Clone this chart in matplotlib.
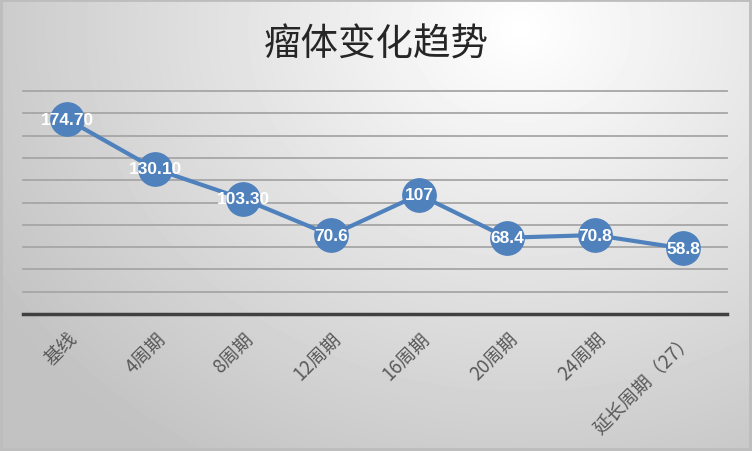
import matplotlib
matplotlib.use('Agg')
import matplotlib.pyplot as plt
import numpy as np

categories = ['基线', '4周期', '8周期', '12周期', '16周期', '20周期', '24周期', '延长周期（27）']
values = [174.70, 130.10, 103.30, 70.6, 107, 68.4, 70.8, 58.8]
labels = ['174.70', '130.10', '103.30', '70.6', '107', '68.4', '70.8', '58.8']

plt.rcParams['font.family'] = ['Noto Sans CJK SC', 'DejaVu Sans']

W, H = 752, 452
fig = plt.figure(figsize=(W / 100, H / 100), dpi=100)

# radial grey gradient background like the office chart style
bg = fig.add_axes([0, 0, 1, 1])
yy, xx = np.mgrid[0:H, 0:W]
d = np.sqrt((xx - 520) ** 2 + ((yy - 30) * 1.2) ** 2) / 620
d = np.clip(d, 0, 1)
shade = 1.0 - 0.24 * d
bg.imshow(shade, cmap='gray', vmin=0, vmax=1, aspect='auto', extent=[0, W, H, 0])
bg.add_patch(plt.Rectangle((1, 1), W - 3, H - 3, fill=False, ec='#bdbdbd', lw=2))
bg.set_xlim(0, W)
bg.set_ylim(H, 0)
bg.axis('off')

ax = fig.add_axes([23 / W, (H - 315) / H, 704 / W, 223 / H])
ax.patch.set_alpha(0)
x = np.arange(len(categories))
ax.set_xlim(-0.5, len(categories) - 0.5)
ax.set_ylim(0, 200)
for yv in range(20, 201, 20):
    ax.axhline(yv, color='#a6a6a6', lw=1.3, zorder=1, clip_on=False)
ax.axhline(0, color='#404040', lw=2.5, zorder=2, clip_on=False)

ax.plot(x, values, color='#4F81BD', lw=3, marker='o', markersize=24,
        markerfacecolor='#4F81BD', markeredgecolor='#4F81BD', zorder=3, clip_on=False)
for xi, v, t in zip(x, values, labels):
    ax.text(xi, v, t, color='white', fontsize=12.5, fontweight='bold',
            family='Liberation Sans', ha='center', va='center', zorder=4)

for s in ax.spines.values():
    s.set_visible(False)
ax.set_yticks([])
ax.set_xticks(x)
ax.set_xticklabels(categories, rotation=45, ha='right', va='top',
                   rotation_mode='anchor', fontsize=13.5, color='#595959')
ax.tick_params(axis='x', length=0, pad=10)

fig.text(0.5, (H - 45) / H, '瘤体变化趋势', fontsize=27, color='#262626',
         ha='center', va='center')

fig.savefig('out.png', dpi=100)
